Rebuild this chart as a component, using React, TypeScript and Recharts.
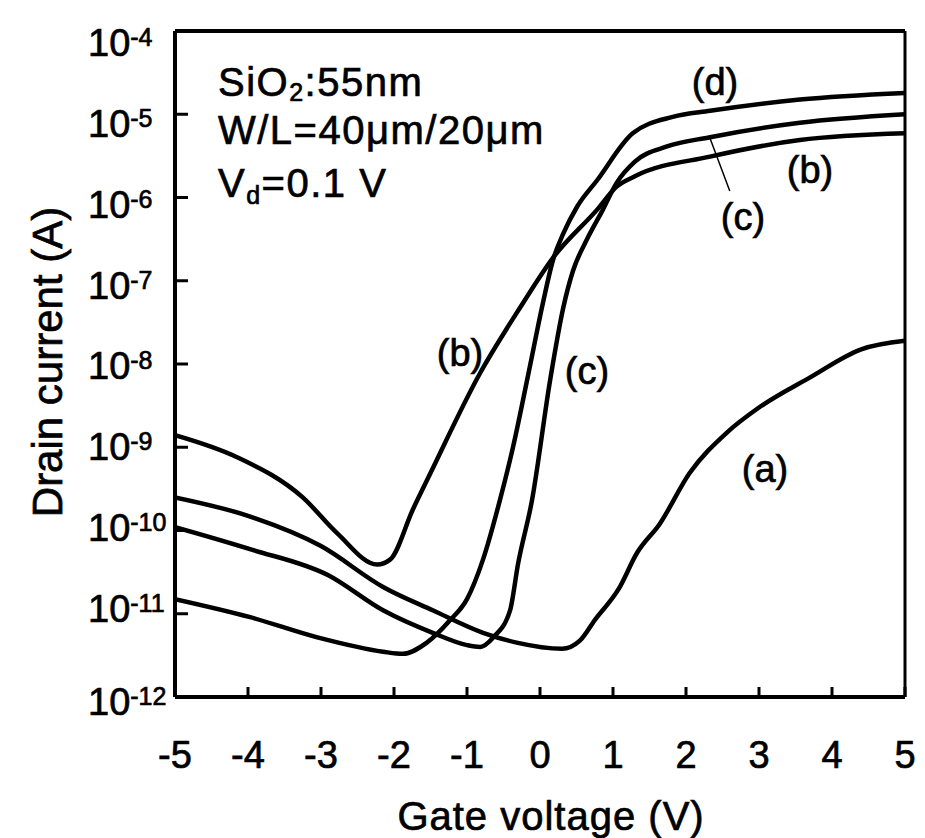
import { LineChart, Line, XAxis, YAxis, ReferenceLine } from 'recharts'

// gate voltage (V) / drain current (A)
const voltTicks = [-5, -4, -3, -2, -1, 0, 1, 2, 3, 4, 5]
const currentTicks = [1e-4, 1e-5, 1e-6, 1e-7, 1e-8, 1e-9, 1e-10, 1e-11, 1e-12]

const curveA = [
  { v: -5, i: 2.5e-10 }, { v: -4, i: 1.5e-10 }, { v: -3, i: 6.5e-11 },
  { v: -2.15, i: 2.1e-11 }, { v: -1.47, i: 1.1e-11 }, { v: -0.78, i: 5.9e-12 },
  { v: -0.32, i: 4.5e-12 }, { v: 0.3, i: 3.8e-12 }, { v: 0.55, i: 4.8e-12 },
  { v: 0.75, i: 8.4e-12 }, { v: 1.08, i: 2.0e-11 }, { v: 1.33, i: 5.4e-11 },
  { v: 1.64, i: 1.2e-10 }, { v: 2.05, i: 4.9e-10 }, { v: 2.56, i: 1.5e-9 },
  { v: 3.0, i: 3.0e-9 }, { v: 3.7, i: 6.9e-9 }, { v: 4.4, i: 1.5e-8 },
  { v: 5, i: 1.9e-8 },
]

const curveB = [
  { v: -5, i: 1.4e-9 }, { v: -4.15, i: 7.6e-10 }, { v: -3.25, i: 2.5e-10 },
  { v: -2.78, i: 9.3e-11 }, { v: -2.23, i: 3.9e-11 }, { v: -2.05, i: 4.5e-11 },
  { v: -1.74, i: 1.8e-10 }, { v: -1.51, i: 4.7e-10 }, { v: -0.82, i: 7.8e-9 },
  { v: -0.27, i: 4.8e-8 }, { v: 0.18, i: 1.9e-7 }, { v: 0.78, i: 7.1e-7 },
  { v: 1.05, i: 1.35e-6 }, { v: 1.3, i: 1.8e-6 }, { v: 2.33, i: 3.1e-6 },
  { v: 3.56, i: 4.9e-6 }, { v: 5, i: 5.9e-6 },
]

const curveC = [
  { v: -5, i: 1.1e-10 }, { v: -3.95, i: 5.9e-11 }, { v: -2.9, i: 2.9e-11 },
  { v: -2.15, i: 1.1e-11 }, { v: -1.47, i: 5.9e-12 }, { v: -1.0, i: 4.2e-12 },
  { v: -0.82, i: 4.0e-12 }, { v: -0.64, i: 5.2e-12 }, { v: -0.41, i: 1.1e-11 },
  { v: -0.3, i: 4.0e-11 }, { v: -0.11, i: 2.3e-10 }, { v: 0.14, i: 6.5e-9 },
  { v: 0.32, i: 4.8e-8 }, { v: 0.45, i: 1.3e-7 }, { v: 0.64, i: 3.1e-7 },
  { v: 0.86, i: 7.1e-7 }, { v: 1.05, i: 1.5e-6 }, { v: 1.3, i: 2.7e-6 },
  { v: 1.74, i: 4.1e-6 }, { v: 2.33, i: 5.3e-6 }, { v: 3.56, i: 7.9e-6 },
  { v: 5, i: 1.0e-5 },
]

const curveD = [
  { v: -5, i: 1.5e-11 }, { v: -3.97, i: 9.1e-12 }, { v: -3.05, i: 5.2e-12 },
  { v: -2.15, i: 3.5e-12 }, { v: -1.88, i: 3.3e-12 }, { v: -1.55, i: 4.5e-12 },
  { v: -1.23, i: 8.4e-12 }, { v: -1.0, i: 1.5e-11 }, { v: -0.78, i: 4.5e-11 },
  { v: -0.55, i: 2.3e-10 }, { v: -0.37, i: 1.0e-9 }, { v: -0.14, i: 9.2e-9 },
  { v: 0.04, i: 5.4e-8 }, { v: 0.18, i: 1.8e-7 }, { v: 0.32, i: 3.7e-7 },
  { v: 0.51, i: 7.8e-7 }, { v: 0.78, i: 1.6e-6 }, { v: 1.27, i: 5.9e-6 },
  { v: 1.82, i: 9.3e-6 }, { v: 2.33, i: 1.1e-5 }, { v: 3.56, i: 1.5e-5 },
  { v: 5, i: 1.8e-5 },
]

// leader from the (c) label to its curve
const leaderC = [{ x: 2.33, y: 5.1e-6 }, { x: 2.6, y: 1.2e-6 }]

const FONT = '"Liberation Sans", Arial, Helvetica, sans-serif'
const INK = { fill: '#000', stroke: '#000', strokeWidth: 0.7 }

function YTick({ y, payload, index }: any) {
  const exp = Math.round(Math.log10(payload.value))
  const off = index === 8 ? 18 : 25 - 2.4 * index
  return (
    <text x={80} y={y + off} fontSize={38} fontFamily={FONT} {...INK}>
      <tspan>10</tspan>
      <tspan dy={-10} fontSize={25}>{String(exp)}</tspan>
    </text>
  )
}

function XTick({ x, payload }: any) {
  return (
    <text x={x} y={760} fontSize={38} fontFamily={FONT} textAnchor="middle" {...INK}>
      {String(payload.value)}
    </text>
  )
}

const series = [curveA, curveB, curveC, curveD]

export default function App() {
  return (
    <div style={{ position: 'relative', width: 909, height: 830, background: '#fff' }}>
      <LineChart
        width={909}
        height={822}
        margin={{ top: 23, right: 12, bottom: 0, left: 0 }}
      >
        <XAxis
          dataKey="v"
          type="number"
          domain={[-5, 5]}
          ticks={voltTicks}
          allowDataOverflow
          height={133}
          tick={<XTick />}
          tickSize={-10}
          tickLine={{ stroke: '#000', strokeWidth: 3 }}
          axisLine={{ stroke: '#000', strokeWidth: 4 }}
        />
        <YAxis
          dataKey="i"
          type="number"
          scale="log"
          domain={[1e-12, 1e-4]}
          ticks={currentTicks}
          allowDataOverflow
          width={167}
          tick={<YTick />}
          tickSize={-13}
          tickLine={{ stroke: '#000', strokeWidth: 3 }}
          axisLine={{ stroke: '#000', strokeWidth: 4 }}
        />
        <ReferenceLine y={1e-4} stroke="#000" strokeWidth={4} />
        <ReferenceLine x={5} stroke="#000" strokeWidth={3} />
        <ReferenceLine segment={leaderC} stroke="#000" strokeWidth={1.5} />
        {series.map((d, k) => (
          <Line
            key={k}
            data={d}
            dataKey="i"
            type="monotone"
            stroke="#000"
            strokeWidth={4.5}
            dot={false}
            isAnimationActive={false}
          />
        ))}
      </LineChart>
      <svg
        width={909}
        height={830}
        style={{ position: 'absolute', left: 0, top: 0, overflow: 'visible', pointerEvents: 'none' }}
        fontFamily={FONT}
        {...INK}
      >
        <g fontSize={40} letterSpacing={1.5}>
          <text x={210} y={88}>
            SiO<tspan dy={5} fontSize={25}>2</tspan><tspan dy={-5}>:55nm</tspan>
          </text>
          <text x={210} y={136}>W/L=40μm/20μm</text>
          <text x={210} y={189}>
            V<tspan dy={7} fontSize={25}>d</tspan><tspan dy={-7}>=0.1 V</tspan>
          </text>
        </g>
        <g fontSize={38} textAnchor="middle">
          <text x={707} y={87}>(d)</text>
          <text x={802} y={175}>(b)</text>
          <text x={735} y={222}>(c)</text>
          <text x={452} y={358}>(b)</text>
          <text x={579} y={376}>(c)</text>
          <text x={757} y={474}>(a)</text>
        </g>
        <text
          x={54}
          y={354}
          fontSize={42}
          textAnchor="middle"
          transform="rotate(-90, 54, 354)"
        >
          Drain current (A)
        </text>
        <text x={543} y={822} fontSize={40} letterSpacing={1} textAnchor="middle">
          Gate voltage (V)
        </text>
      </svg>
    </div>
  )
}
